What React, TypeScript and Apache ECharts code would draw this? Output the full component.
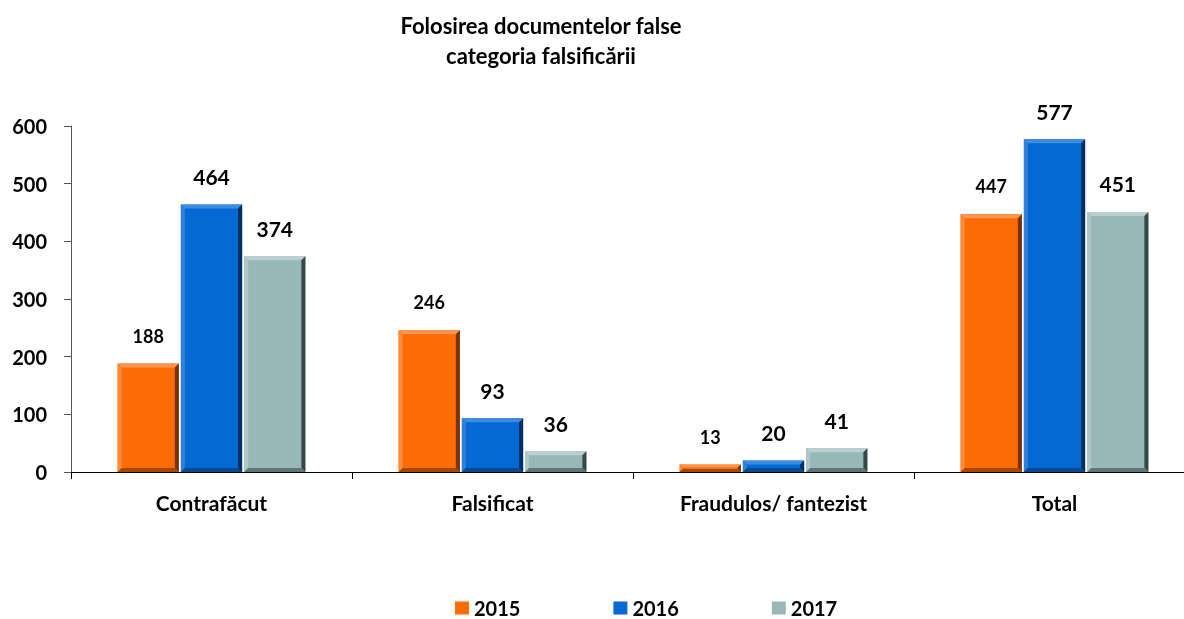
import React, { useEffect, useRef } from "react";
import * as echarts from "echarts";

const categories = ["Contrafăcut", "Falsificat", "Fraudulos/ fantezist", "Total"];
const seriesNames = ["2015", "2016", "2017"];
const values2015 = [188, 246, 13, 447];
const values2016 = [464, 93, 20, 577];
const values2017 = [374, 36, 41, 451];
const yTicks = [0, 100, 200, 300, 400, 500, 600];

const palettes = [
  { base: "#FB6C07", top: "#FF9350", left: "#FF8A38", right: "#7A3300", bottom: "#A84800" },
  { base: "#0469D3", top: "#3E8CE0", left: "#2F80D8", right: "#032E5E", bottom: "#0A4890" },
  { base: "#98B8B8", top: "#BACFCF", left: "#AEC6C6", right: "#354848", bottom: "#5E7676" },
];
const labelSizes = [18, 21, 21];
const FONT = "Lato, 'Open Sans', sans-serif";

export default function App() {
  const ref = useRef<HTMLDivElement>(null);
  useEffect(() => {
    const chart = echarts.init(ref.current!, null, { renderer: "svg" });
    const all = [values2015, values2016, values2017];
    const makeRender = (si: number) => (params: any, api: any) => {
      const idx = api.value(0);
      const val = api.value(1);
      const band = api.size([1, 0])[0];
      const barW = band * 0.218;
      const gap = 2;
      const c = api.coord([idx, val]);
      const b = api.coord([idx, 0]);
      const cx = c[0] + (si - 1) * (barW + gap);
      const x0 = cx - barW / 2;
      const x1 = cx + barW / 2;
      const y0 = c[1];
      const y1 = b[1];
      const h = y1 - y0;
      const bv = Math.min(4, h / 2.5);
      const p = palettes[si];
      return {
        type: "group",
        children: [
          { type: "rect", shape: { x: x0, y: y0, width: barW, height: h }, style: { fill: p.base } },
          { type: "polygon", shape: { points: [[x0, y0], [x1, y0], [x1 - bv, y0 + bv], [x0 + bv, y0 + bv]] }, style: { fill: p.top } },
          { type: "polygon", shape: { points: [[x0, y0], [x0 + bv, y0 + bv], [x0 + bv, y1 - bv], [x0, y1]] }, style: { fill: p.left } },
          { type: "polygon", shape: { points: [[x1, y0], [x1, y1], [x1 - bv, y1 - bv], [x1 - bv, y0 + bv]] }, style: { fill: p.right } },
          { type: "polygon", shape: { points: [[x0, y1], [x0 + bv, y1 - bv], [x1 - bv, y1 - bv], [x1, y1]] }, style: { fill: p.bottom } },
          {
            type: "text",
            style: {
              text: String(val),
              x: cx,
              y: y0 - 28,
              align: "center",
              verticalAlign: "middle",
              font: `bold ${labelSizes[si]}px ${FONT}`,
              fill: "#000",
            },
          },
        ],
      };
    };
    chart.setOption({
      animation: false,
      title: {
        text: "Folosirea documentelor false\ncategoria falsificării",
        left: 536,
        textAlign: "center",
        top: 5,
        textStyle: { fontFamily: FONT, fontWeight: "bold", fontSize: 22, lineHeight: 30, color: "#000" },
      },
      legend: {
        top: 593,
        left: 450,
        itemGap: 93,
        itemWidth: 14,
        itemHeight: 13,
        icon: "rect",
        data: seriesNames,
        textStyle: { fontFamily: FONT, fontWeight: "bold", fontSize: 20, color: "#000" },
      },
      grid: { left: 71, right: 9, top: 126, bottom: 147, containLabel: false },
      xAxis: {
        type: "category",
        data: categories,
        axisLine: { lineStyle: { color: "#000", width: 1 } },
        axisTick: { show: true, inside: false, length: 7, lineStyle: { color: "#000" } },
        axisLabel: { fontFamily: FONT, fontWeight: "bold", fontSize: 21, color: "#000", margin: 20 },
      },
      yAxis: {
        type: "value",
        min: yTicks[0],
        max: yTicks[yTicks.length - 1],
        interval: 100,
        axisLine: { show: true, lineStyle: { color: "#555" } },
        axisTick: { show: true, length: 7, lineStyle: { color: "#555" } },
        splitLine: { show: false },
        axisLabel: { fontFamily: FONT, fontWeight: "bold", fontSize: 20, color: "#000", margin: 24 },
      },
      series: seriesNames.map((name, si) => ({
        type: "custom",
        name,
        itemStyle: { color: palettes[si].base },
        renderItem: makeRender(si),
        encode: { x: 0, y: 1 },
        data: all[si].map((v, i) => [i, v]),
        clip: false,
      })),
    });
    return () => chart.dispose();
  }, []);
  return <div ref={ref} style={{ position: "fixed", left: 0, top: 0, width: 1204, height: 619 }} />;
}
